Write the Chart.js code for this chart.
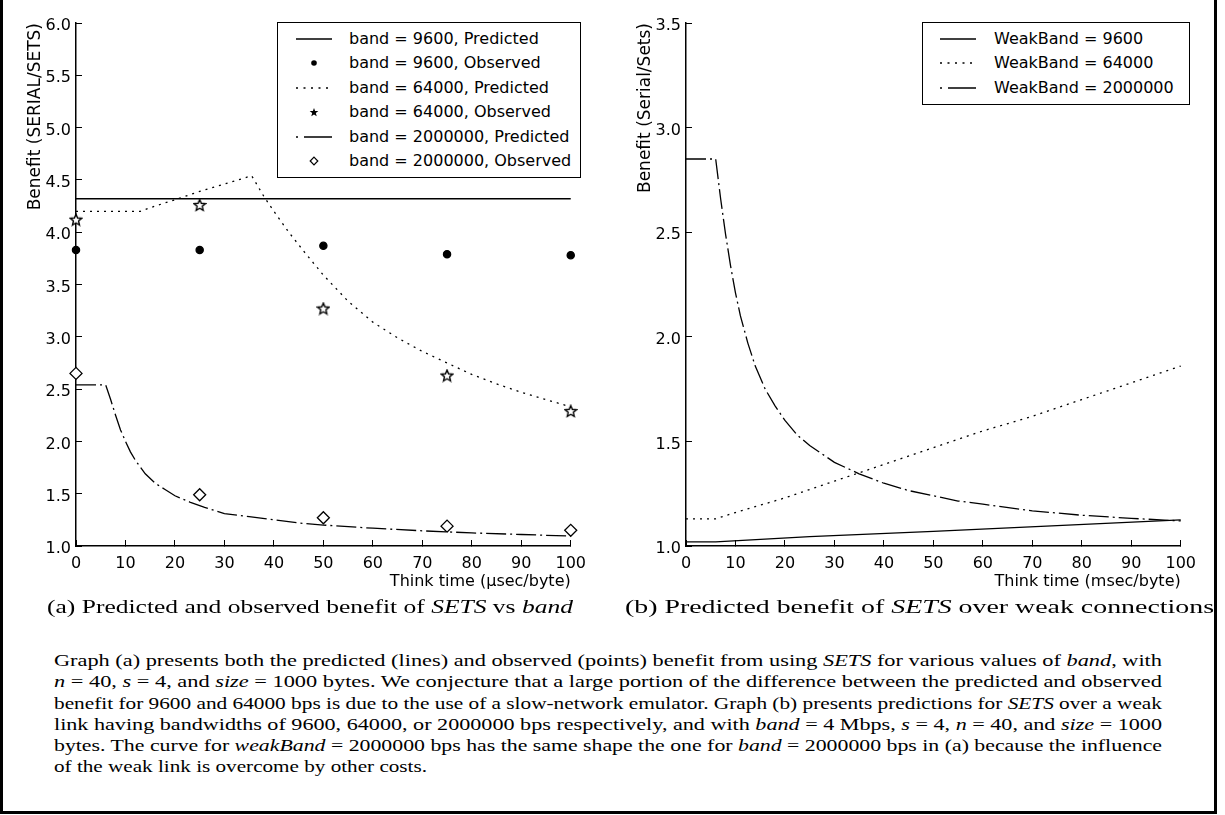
<!DOCTYPE html>
<html>
<head>
<meta charset="utf-8">
<title>Predicted and observed benefit of SETS</title>
<script src="https://cdn.jsdelivr.net/npm/chart.js"></script>
<style>
  html, body { margin: 0; padding: 0; background: #fff; }
  body { width: 1225px; height: 815px; position: relative; overflow: hidden; }
  .frame { position: absolute; left: 0; top: -10px; width: 1217px; height: 824px;
           border: 3px solid #000; box-sizing: border-box; }
  canvas { position: absolute; top: 0; }
  .legend { position: absolute; border: 1.5px solid #000; box-sizing: border-box; background: #fff;
            font: 16px 'DejaVu Sans', sans-serif; color: #000; }
  .legend .row { position: absolute; left: 0; right: 0; height: 24px; line-height: 24px; white-space: nowrap; }
  .legend svg { position: absolute; top: 6px; }
  .legend span { position: absolute; }
  .caption { position: absolute; white-space: nowrap; font: 19.5px 'Liberation Serif', 'Times New Roman', serif;
             line-height: 20px; transform-origin: 0 0; color: #000; }
  .para { position: absolute; left: 54px; top: 650px; font: 16px 'Liberation Serif', 'Times New Roman', serif; color: #000; }
  .para div { height: 21.3px; line-height: 21.3px; white-space: nowrap; }
  .para span { display: inline-block; transform-origin: 0 0; }
  i { font-style: italic; }
</style>
</head>
<body>
<div class="frame"></div>
<canvas id="chartA" width="600" height="600" style="left:0px"></canvas>
<canvas id="chartB" width="600" height="600" style="left:610px"></canvas>
<div id="legendA" class="legend" style="left:277px; top:22px; width:304px; height:156px"></div>
<div id="legendB" class="legend" style="left:922px; top:22px; width:268px; height:83px"></div>
<div id="capA" class="caption" style="left:47px; top:597px">(a) Predicted and observed benefit of <i>SETS</i> vs <i>band</i></div>
<div id="capB" class="caption" style="left:625px; top:597px">(b) Predicted benefit of <i>SETS</i> over weak connections</div>
<div id="para" class="para"></div>

<script>
// ---- data: graph (a), think time in usec/byte ----
const thinkObs = [0, 25, 50, 75, 100];
const obs9600 = [3.83, 3.83, 3.87, 3.79, 3.78];
const obs64000 = [4.12, 4.26, 3.27, 2.63, 2.29];
const obs2M = [2.65, 1.49, 1.27, 1.19, 1.15];

const pred9600X = [0, 100];
const pred9600Y = [4.32, 4.32];

const pred64000X = [0, 13, 16, 20, 25, 30, 35.5, 38, 40, 43, 46, 50, 55, 60, 65, 70, 75, 80, 85, 90, 95, 100];
const pred64000Y = [4.20, 4.20, 4.25, 4.31, 4.39, 4.46, 4.54, 4.34, 4.20, 4.00, 3.82, 3.59, 3.34, 3.14, 2.99, 2.86, 2.75, 2.64, 2.55, 2.47, 2.40, 2.33];

const pred2MX = [0, 6, 7, 8, 9, 10, 11, 12, 14, 16, 18, 20, 23, 26, 30, 35, 40, 45, 50, 60, 70, 80, 90, 100];
const pred2MY = [2.54, 2.54, 2.40, 2.25, 2.11, 2.00, 1.90, 1.82, 1.69, 1.60, 1.54, 1.48, 1.42, 1.37, 1.31, 1.28, 1.25, 1.22, 1.20, 1.17, 1.145, 1.125, 1.11, 1.095];

// ---- data: graph (b), think time in msec/byte ----
const weak9600X = [0, 6, 25, 50, 75, 100];
const weak9600Y = [1.02, 1.02, 1.045, 1.07, 1.097, 1.125];

const weak64000X = [0, 6, 10, 20, 30, 40, 50, 60, 70, 80, 90, 100];
const weak64000Y = [1.13, 1.13, 1.16, 1.23, 1.31, 1.39, 1.47, 1.55, 1.62, 1.70, 1.78, 1.86];

const weak2MX = [0, 6, 7, 8, 9, 10, 11, 12.5, 14, 16, 18, 20, 22.5, 25, 30, 35, 40, 45, 50, 55, 60, 70, 80, 90, 100];
const weak2MY = [2.85, 2.85, 2.66, 2.49, 2.34, 2.21, 2.10, 1.97, 1.86, 1.75, 1.67, 1.60, 1.53, 1.48, 1.40, 1.345, 1.30, 1.265, 1.24, 1.215, 1.20, 1.168, 1.147, 1.132, 1.12];

// ---- labels ----
const labelsA = ['band = 9600, Predicted', 'band = 9600, Observed', 'band = 64000, Predicted',
                 'band = 64000, Observed', 'band = 2000000, Predicted', 'band = 2000000, Observed'];
const labelsB = ['WeakBand = 9600', 'WeakBand = 64000', 'WeakBand = 2000000'];

const paraLines = [
  'Graph (a) presents both the predicted (lines) and observed (points) benefit from using <i>SETS</i> for various values of <i>band</i>, with',
  '<i>n</i> = 40, <i>s</i> = 4, and <i>size</i> = 1000 bytes. We conjecture that a large portion of the difference between the predicted and observed',
  'benefit for 9600 and 64000 bps is due to the use of a slow-network emulator. Graph (b) presents predictions for <i>SETS</i> over a weak',
  'link having bandwidths of 9600, 64000, or 2000000 bps respectively, and with <i>band</i> = 4 Mbps, <i>s</i> = 4, <i>n</i> = 40, and <i>size</i> = 1000',
  'bytes. The curve for <i>weakBand</i> = 2000000 bps has the same shape the one for <i>band</i> = 2000000 bps in (a) because the influence',
  'of the weak link is overcome by other costs.'
];

// ---- styles ----
const FONT = "'DejaVu Sans', sans-serif";
const SOLID = [];
const DOTTED = [2, 5];
const DASHDOT = [20, 4, 2, 4];

// hollow five point star for the 64000 observed points
function starImage(size, lw) {
  const c = document.createElement('canvas');
  c.width = c.height = size;
  const g = c.getContext('2d');
  const cx = size / 2, cy = size / 2 + 0.5, R = size / 2 - 1, r = R * 0.45;
  g.beginPath();
  for (let i = 0; i < 10; i++) {
    const a = -Math.PI / 2 + i * Math.PI / 5;
    const rr = i % 2 ? r : R;
    g.lineTo(cx + rr * Math.cos(a), cy + rr * Math.sin(a));
  }
  g.closePath();
  g.fillStyle = '#fff';
  g.fill();
  g.lineWidth = lw;
  g.strokeStyle = '#000';
  g.stroke();
  return c;
}

const toXY = (xs, ys) => xs.map((x, i) => ({ x, y: ys[i] }));

function lineSet(label, xs, ys, dash) {
  return {
    label, data: toXY(xs, ys), showLine: true,
    borderColor: '#000', borderWidth: 1.3, borderDash: dash,
    pointRadius: 0, tension: 0, clip: false, legendKind: 'line'
  };
}

function pointSet(label, xs, ys, style, radius, fill, kind) {
  return {
    label, data: toXY(xs, ys), showLine: false,
    pointStyle: style, pointRadius: radius,
    pointBackgroundColor: fill, pointBorderColor: '#000', pointBorderWidth: 1.3,
    clip: false, legendKind: kind
  };
}

function drawPanel(id, datasets, yMax, xTitle, yTitle, padRight) {
  return new Chart(document.getElementById(id), {
    type: 'scatter',
    data: { datasets },
    options: {
      responsive: false,
      animation: false,
      events: [],
      layout: { padding: { left: 22, right: padRight, top: 23, bottom: 0 } },
      plugins: { legend: { display: false }, tooltip: { enabled: false } },
      scales: {
        x: {
          type: 'linear', min: 0, max: 100,
          afterFit: (s) => { s.height = 54; },
          ticks: { stepSize: 10, autoSkip: false, maxRotation: 0, padding: 14, color: '#000',
                   font: { family: FONT, size: 16 } },
          grid: { drawOnChartArea: false, drawTicks: true, tickLength: -6, color: '#000', lineWidth: 1 },
          border: { display: true, color: '#000', width: 1.5 },
          title: { display: true, text: xTitle, align: 'end', color: '#000',
                   font: { family: FONT, size: 16 }, padding: { top: 0, bottom: 9 } }
        },
        y: {
          type: 'linear', min: 1, max: yMax,
          afterFit: (s) => { s.width = 54; },
          ticks: { stepSize: 0.5, padding: 11, labelOffset: 3, color: '#000',
                   font: { family: FONT, size: 16 }, callback: (v) => Number(v).toFixed(1) },
          grid: { drawOnChartArea: false, drawTicks: true, tickLength: -6, color: '#000', lineWidth: 1 },
          border: { display: true, color: '#000', width: 1.5 },
          title: { display: true, text: yTitle, align: 'end', color: '#000',
                   font: { family: FONT, size: 17 }, padding: { top: 3, bottom: 0 } }
        }
      }
    }
  });
}

const star = starImage(14, 1.4);

const chartA = drawPanel('chartA', [
  lineSet(labelsA[0], pred9600X, pred9600Y, SOLID),
  pointSet(labelsA[1], thinkObs, obs9600, 'circle', 3.6, '#000', 'dot'),
  lineSet(labelsA[2], pred64000X, pred64000Y, DOTTED),
  pointSet(labelsA[3], thinkObs, obs64000, star, 7, '#fff', 'star'),
  lineSet(labelsA[4], pred2MX, pred2MY, DASHDOT),
  pointSet(labelsA[5], thinkObs, obs2M, 'rectRot', 6, '#fff', 'diamond')
], 6, 'Think time (\u00b5sec/byte)', 'Benefit (SERIAL/SETS)', 18);

const chartB = drawPanel('chartB', [
  lineSet(labelsB[0], weak9600X, weak9600Y, SOLID),
  lineSet(labelsB[1], weak64000X, weak64000Y, DOTTED),
  lineSet(labelsB[2], weak2MX, weak2MY, DASHDOT)
], 3.5, 'Think time (msec/byte)', 'Benefit (Serial/Sets)', 21);

// ---- html legends built from the chart datasets ----
function legendSymbol(ds) {
  const k = ds.legendKind;
  if (k === 'dot') return '<circle cx="18" cy="6" r="2.8" fill="#000"/>';
  if (k === 'star') {
    let pts = [];
    for (let i = 0; i < 10; i++) {
      const a = -Math.PI / 2 + i * Math.PI / 5, rr = i % 2 ? 1.9 : 4.6;
      pts.push((18 + rr * Math.cos(a)).toFixed(2) + ',' + (6.5 + rr * Math.sin(a)).toFixed(2));
    }
    return '<polygon points="' + pts.join(' ') + '" fill="#000"/>';
  }
  if (k === 'diamond') return '<polygon points="18,2.2 21.8,6 18,9.8 14.2,6" fill="none" stroke="#000" stroke-width="1.2"/>';
  let dash = '';
  if (ds.borderDash === DOTTED) dash = ' stroke-dasharray="2 5.5"';
  if (ds.borderDash === DASHDOT) dash = ' stroke-dasharray="2 6 28 10"';
  return '<line x1="0" y1="6" x2="36" y2="6" stroke="#000" stroke-width="1.3"' + dash + '/>';
}

function buildLegend(elId, chart, symLeft) {
  const el = document.getElementById(elId);
  chart.data.datasets.forEach((ds, i) => {
    const row = document.createElement('div');
    row.className = 'row';
    row.style.top = (3.5 + i * 24.5) + 'px';
    row.innerHTML = '<svg width="36" height="12" style="left:' + symLeft + 'px">' + legendSymbol(ds) + '</svg>' +
                    '<span style="left:71px">' + ds.label + '</span>';
    el.appendChild(row);
  });
}
buildLegend('legendA', chartA, 18);
buildLegend('legendB', chartB, 17);

// ---- captions and paragraph, stretched to the widths of the original ----
function fitWidth(el, target) {
  const w = el.getBoundingClientRect().width;
  if (w > 0) el.style.transform = 'scaleX(' + (target / w).toFixed(4) + ')';
}
fitWidth(document.getElementById('capA'), 526);
fitWidth(document.getElementById('capB'), 589);

const para = document.getElementById('para');
const paraWidths = [1108, 1108, 1108, 1108, 1108, 373];
paraLines.forEach((html, i) => {
  const d = document.createElement('div');
  const s = document.createElement('span');
  s.innerHTML = html;
  d.appendChild(s);
  para.appendChild(d);
  fitWidth(s, paraWidths[i]);
});
</script>
</body>
</html>
